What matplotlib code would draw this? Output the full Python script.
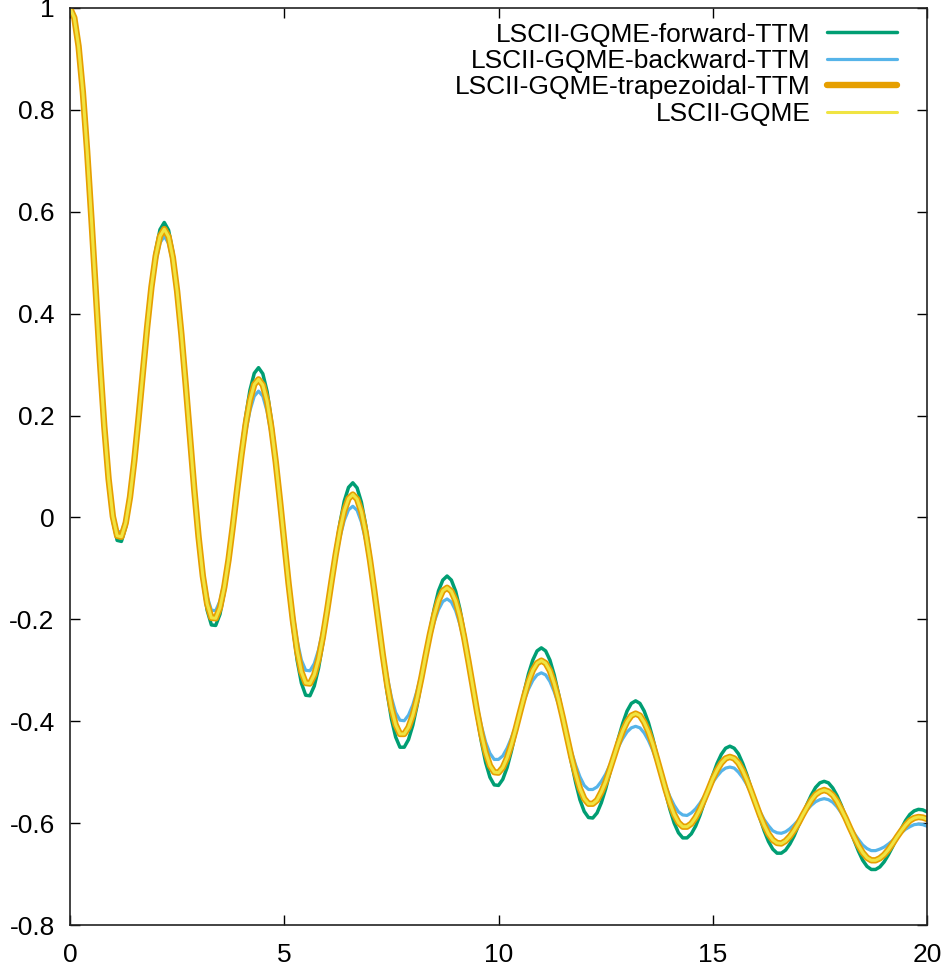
import numpy as np
import matplotlib
matplotlib.use("Agg")
import matplotlib.pyplot as plt

plt.rcParams['font.family'] = ['Liberation Sans', 'DejaVu Sans']

# time grid (0 .. 20, step 0.1)
t = np.round(np.arange(0, 201) * 0.1, 1)

forward_ttm = [
    1.000, 0.981, 0.924, 0.833, 0.717, 0.582, 0.439, 0.299, 0.172, 0.068,
    -0.007, -0.045, -0.047, -0.019, 0.034, 0.107, 0.195, 0.288, 0.379, 0.461,
    0.524, 0.565, 0.579, 0.564, 0.521, 0.453, 0.365, 0.263, 0.155, 0.049,
    -0.047, -0.126, -0.182, -0.211, -0.212, -0.190, -0.147, -0.088, -0.017, 0.059,
    0.133, 0.198, 0.250, 0.283, 0.294, 0.282, 0.247, 0.191, 0.120, 0.037,
    -0.051, -0.137, -0.215, -0.280, -0.325, -0.349, -0.350, -0.331, -0.296, -0.247,
    -0.189, -0.126, -0.065, -0.011, 0.032, 0.059, 0.068, 0.058, 0.030, -0.015,
    -0.073, -0.140, -0.210, -0.280, -0.343, -0.395, -0.431, -0.451, -0.451, -0.436,
    -0.408, -0.369, -0.322, -0.271, -0.222, -0.179, -0.144, -0.123, -0.115, -0.123,
    -0.145, -0.180, -0.226, -0.279, -0.335, -0.390, -0.440, -0.481, -0.510, -0.525,
    -0.526, -0.514, -0.491, -0.459, -0.422, -0.381, -0.342, -0.307, -0.280, -0.262,
    -0.256, -0.262, -0.280, -0.309, -0.346, -0.389, -0.435, -0.480, -0.520, -0.554,
    -0.577, -0.589, -0.590, -0.580, -0.560, -0.533, -0.501, -0.467, -0.433, -0.404,
    -0.380, -0.365, -0.360, -0.365, -0.380, -0.403, -0.433, -0.468, -0.504, -0.540,
    -0.573, -0.600, -0.619, -0.629, -0.629, -0.621, -0.606, -0.585, -0.560, -0.533,
    -0.506, -0.483, -0.465, -0.453, -0.449, -0.453, -0.464, -0.483, -0.506, -0.533,
    -0.562, -0.590, -0.615, -0.636, -0.651, -0.659, -0.659, -0.653, -0.641, -0.625,
    -0.605, -0.584, -0.563, -0.545, -0.530, -0.521, -0.518, -0.521, -0.531, -0.546,
    -0.565, -0.587, -0.611, -0.634, -0.655, -0.673, -0.685, -0.691, -0.691, -0.686,
    -0.676, -0.662, -0.646, -0.628, -0.611, -0.595, -0.583, -0.576, -0.573, -0.574,
    -0.578,
]

backward_ttm = [
    1.000, 0.981, 0.925, 0.836, 0.721, 0.589, 0.449, 0.311, 0.186, 0.084,
    0.011, -0.027, -0.029, -0.003, 0.046, 0.114, 0.195, 0.282, 0.367, 0.442,
    0.501, 0.539, 0.552, 0.538, 0.498, 0.435, 0.353, 0.259, 0.158, 0.060,
    -0.029, -0.103, -0.155, -0.182, -0.183, -0.164, -0.127, -0.077, -0.017, 0.048,
    0.111, 0.167, 0.210, 0.238, 0.248, 0.238, 0.208, 0.161, 0.099, 0.029,
    -0.046, -0.120, -0.186, -0.241, -0.280, -0.300, -0.301, -0.287, -0.260, -0.222,
    -0.177, -0.128, -0.081, -0.039, -0.006, 0.015, 0.022, 0.014, -0.009, -0.045,
    -0.092, -0.146, -0.203, -0.260, -0.311, -0.353, -0.383, -0.398, -0.399, -0.388,
    -0.368, -0.340, -0.307, -0.271, -0.236, -0.205, -0.181, -0.165, -0.160, -0.166,
    -0.183, -0.210, -0.245, -0.286, -0.329, -0.371, -0.409, -0.441, -0.463, -0.475,
    -0.475, -0.468, -0.453, -0.433, -0.410, -0.384, -0.359, -0.337, -0.320, -0.309,
    -0.305, -0.309, -0.322, -0.342, -0.367, -0.397, -0.428, -0.459, -0.486, -0.509,
    -0.526, -0.534, -0.534, -0.529, -0.518, -0.504, -0.486, -0.468, -0.450, -0.434,
    -0.421, -0.413, -0.410, -0.413, -0.423, -0.438, -0.457, -0.480, -0.504, -0.527,
    -0.548, -0.565, -0.578, -0.584, -0.585, -0.580, -0.572, -0.561, -0.548, -0.534,
    -0.520, -0.508, -0.498, -0.492, -0.490, -0.492, -0.500, -0.511, -0.525, -0.542,
    -0.559, -0.577, -0.593, -0.605, -0.615, -0.619, -0.620, -0.617, -0.611, -0.603,
    -0.594, -0.584, -0.574, -0.565, -0.558, -0.554, -0.552, -0.554, -0.559, -0.568,
    -0.580, -0.593, -0.607, -0.620, -0.632, -0.643, -0.650, -0.654, -0.654, -0.651,
    -0.647, -0.641, -0.634, -0.626, -0.619, -0.612, -0.607, -0.603, -0.602, -0.603,
    -0.606,
]

trapezoidal_ttm = [
    1.000, 0.981, 0.925, 0.835, 0.719, 0.586, 0.444, 0.305, 0.179, 0.076,
    0.002, -0.036, -0.038, -0.011, 0.040, 0.111, 0.195, 0.285, 0.373, 0.452,
    0.513, 0.552, 0.566, 0.551, 0.510, 0.444, 0.359, 0.261, 0.157, 0.055,
    -0.038, -0.115, -0.169, -0.197, -0.198, -0.177, -0.137, -0.083, -0.017, 0.054,
    0.122, 0.183, 0.230, 0.261, 0.271, 0.260, 0.228, 0.176, 0.110, 0.033,
    -0.049, -0.129, -0.201, -0.261, -0.303, -0.325, -0.326, -0.309, -0.278, -0.235,
    -0.183, -0.127, -0.073, -0.025, 0.013, 0.037, 0.045, 0.036, 0.011, -0.030,
    -0.083, -0.143, -0.207, -0.270, -0.327, -0.374, -0.407, -0.425, -0.425, -0.412,
    -0.388, -0.355, -0.315, -0.271, -0.229, -0.192, -0.163, -0.144, -0.138, -0.145,
    -0.164, -0.195, -0.236, -0.283, -0.332, -0.381, -0.425, -0.461, -0.487, -0.500,
    -0.501, -0.491, -0.472, -0.446, -0.416, -0.383, -0.351, -0.322, -0.300, -0.286,
    -0.281, -0.286, -0.301, -0.326, -0.357, -0.393, -0.432, -0.470, -0.503, -0.532,
    -0.552, -0.562, -0.562, -0.555, -0.539, -0.519, -0.494, -0.468, -0.442, -0.419,
    -0.401, -0.389, -0.385, -0.389, -0.402, -0.421, -0.445, -0.474, -0.504, -0.534,
    -0.561, -0.583, -0.599, -0.607, -0.607, -0.601, -0.589, -0.573, -0.554, -0.534,
    -0.513, -0.496, -0.482, -0.473, -0.470, -0.473, -0.482, -0.497, -0.516, -0.538,
    -0.561, -0.584, -0.604, -0.621, -0.633, -0.639, -0.640, -0.635, -0.626, -0.614,
    -0.600, -0.584, -0.569, -0.555, -0.544, -0.538, -0.535, -0.538, -0.545, -0.557,
    -0.573, -0.590, -0.609, -0.627, -0.644, -0.658, -0.668, -0.673, -0.673, -0.669,
    -0.662, -0.652, -0.640, -0.627, -0.615, -0.604, -0.595, -0.590, -0.588, -0.589,
    -0.592,
]

lscii_gqme = [
    1.000, 0.981, 0.925, 0.835, 0.719, 0.586, 0.444, 0.305, 0.179, 0.076,
    0.002, -0.036, -0.038, -0.011, 0.040, 0.111, 0.195, 0.285, 0.373, 0.452,
    0.513, 0.552, 0.566, 0.551, 0.510, 0.444, 0.359, 0.261, 0.157, 0.055,
    -0.038, -0.115, -0.169, -0.197, -0.198, -0.177, -0.137, -0.083, -0.017, 0.054,
    0.122, 0.183, 0.230, 0.261, 0.271, 0.260, 0.228, 0.176, 0.110, 0.033,
    -0.049, -0.129, -0.201, -0.261, -0.303, -0.325, -0.326, -0.309, -0.278, -0.235,
    -0.183, -0.127, -0.073, -0.025, 0.013, 0.037, 0.045, 0.036, 0.011, -0.030,
    -0.083, -0.143, -0.207, -0.270, -0.327, -0.374, -0.407, -0.425, -0.425, -0.412,
    -0.388, -0.355, -0.315, -0.271, -0.229, -0.192, -0.163, -0.144, -0.138, -0.145,
    -0.164, -0.195, -0.236, -0.283, -0.332, -0.381, -0.425, -0.461, -0.487, -0.500,
    -0.501, -0.491, -0.472, -0.446, -0.416, -0.383, -0.351, -0.322, -0.300, -0.286,
    -0.281, -0.286, -0.301, -0.326, -0.357, -0.393, -0.432, -0.470, -0.503, -0.532,
    -0.552, -0.562, -0.562, -0.555, -0.539, -0.519, -0.494, -0.468, -0.442, -0.419,
    -0.401, -0.389, -0.385, -0.389, -0.402, -0.421, -0.445, -0.474, -0.504, -0.534,
    -0.561, -0.583, -0.599, -0.607, -0.607, -0.601, -0.589, -0.573, -0.554, -0.534,
    -0.513, -0.496, -0.482, -0.473, -0.470, -0.473, -0.482, -0.497, -0.516, -0.538,
    -0.561, -0.584, -0.604, -0.621, -0.633, -0.639, -0.640, -0.635, -0.626, -0.614,
    -0.600, -0.584, -0.569, -0.555, -0.544, -0.538, -0.535, -0.538, -0.545, -0.557,
    -0.573, -0.590, -0.609, -0.627, -0.644, -0.658, -0.668, -0.673, -0.673, -0.669,
    -0.662, -0.652, -0.640, -0.627, -0.615, -0.604, -0.595, -0.590, -0.588, -0.589,
    -0.592,
]

labels = ["LSCII-GQME-forward-TTM", "LSCII-GQME-backward-TTM",
          "LSCII-GQME-trapezoidal-TTM", "LSCII-GQME"]
colors = ["#009e73", "#56b4e9", "#e69f00", "#f0e442"]
widths = [2.5, 2.3, 4.6, 2.2]

xticks = [0, 5, 10, 15, 20]
yticks = [-0.8, -0.6, -0.4, -0.2, 0, 0.2, 0.4, 0.6, 0.8, 1]
yticklabels = ["-0.8", "-0.6", "-0.4", "-0.2", "0", "0.2", "0.4", "0.6", "0.8", "1"]

fig = plt.figure(figsize=(9.5, 9.72), dpi=100)
ax = fig.add_axes([70 / 950, 47 / 972, 857 / 950, 917 / 972])

for y, lab, c, w in zip([forward_ttm, backward_ttm, trapezoidal_ttm, lscii_gqme],
                        labels, colors, widths):
    ax.plot(t, y, color=c, lw=w, label=lab, solid_capstyle='round',
            solid_joinstyle='round')

ax.set_xlim(0, 20)
ax.set_ylim(-0.8, 1)
ax.set_xticks(xticks)
ax.set_xticklabels([str(v) for v in xticks])
ax.set_yticks(yticks)
ax.set_yticklabels(yticklabels)
ax.tick_params(direction='in', length=7, width=1.0, labelsize=19,
               top=True, right=True, color='black')
ax.tick_params(axis='x', pad=13)
ax.tick_params(axis='y', pad=11)
for s in ax.spines.values():
    s.set_linewidth(1.2)
    s.set_color('#222222')

leg = ax.legend(loc='upper right', bbox_to_anchor=(0.965, 0.984), frameon=False,
                markerfirst=False, fontsize=19, handlelength=2.65,
                handletextpad=0.62, labelspacing=0.09, borderpad=0,
                borderaxespad=0)

fig.savefig("out.png", dpi=100)
